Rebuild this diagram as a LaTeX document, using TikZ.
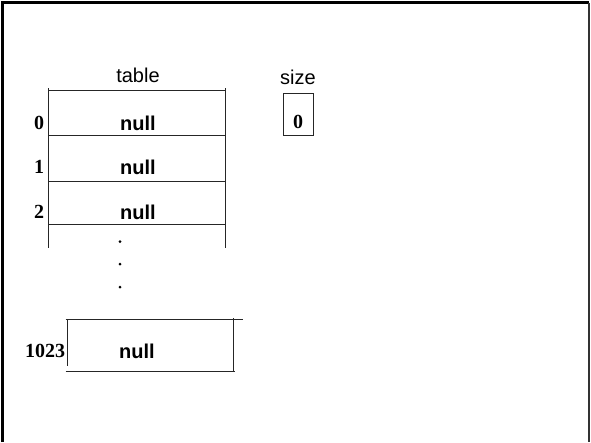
\documentclass[tikz,border=0pt]{standalone}
\usepackage{fontspec}
\setmainfont{Liberation Serif}
\setsansfont{Liberation Sans}
\begin{document}
\begin{tikzpicture}[x=1pt,y=-1pt,
  rule/.style={line width=0.9pt,black!85},
  label/.style={font=\sffamily\fontsize{20}{20}\selectfont,inner sep=0pt},
  cell/.style={font=\sffamily\bfseries\fontsize{20}{20}\selectfont,inner sep=0pt},
  idx/.style={font=\rmfamily\bfseries\fontsize{20}{20}\selectfont,inner sep=0pt}]
\useasboundingbox (0,0) rectangle (591,442);
% slide frame (open at the bottom)
\draw[line width=3pt,black] (2.5,442) -- (2.5,2.5) -- (589,2.5);
\draw[line width=1.5pt,black!80] (589,2.5) -- (589,442);

% table array
\node[label] (tablelbl) at (138,75) {table};
\draw[rule] (48,90.5) -- (226,90.5);
\draw[rule] (48,88) -- (48,248);
\draw[rule] (225.5,88) -- (225.5,248);
\draw[rule] (48,135) -- (225.5,135);
\draw[rule] (48,181.5) -- (225.5,181.5);
\draw[rule] (48,224.5) -- (225.5,224.5);

\node[idx]  (i0) at (39,123) {0};
\node[cell] (c0) at (138,123.5) {null};
\node[idx]  (i1) at (39,167) {1};
\node[cell] (c1) at (138,167.5) {null};
\node[idx]  (i2) at (39,212) {2};
\node[cell] (c2) at (138,212) {null};

\fill (120,241.5) circle (1.5);
\fill (120,264) circle (1.5);
\fill (120,287) circle (1.5);

% last slot
\draw[rule] (65.5,319.5) -- (242.5,319.5);
\draw[rule] (67.5,319.5) -- (67.5,366);
\draw[rule] (233.5,318) -- (233.5,371);
\draw[rule] (65.5,371.5) -- (235,371.5);
\node[idx]  (i1023) at (45,351) {1023};
\node[cell] (c1023) at (137,351) {null};

% size field
\node[label] (sizelbl) at (298,77) {size};
\draw[rule] (283,93.5) rectangle (313.5,135);
\node[idx] (sz) at (298,122) {0};
\end{tikzpicture}
\end{document}
